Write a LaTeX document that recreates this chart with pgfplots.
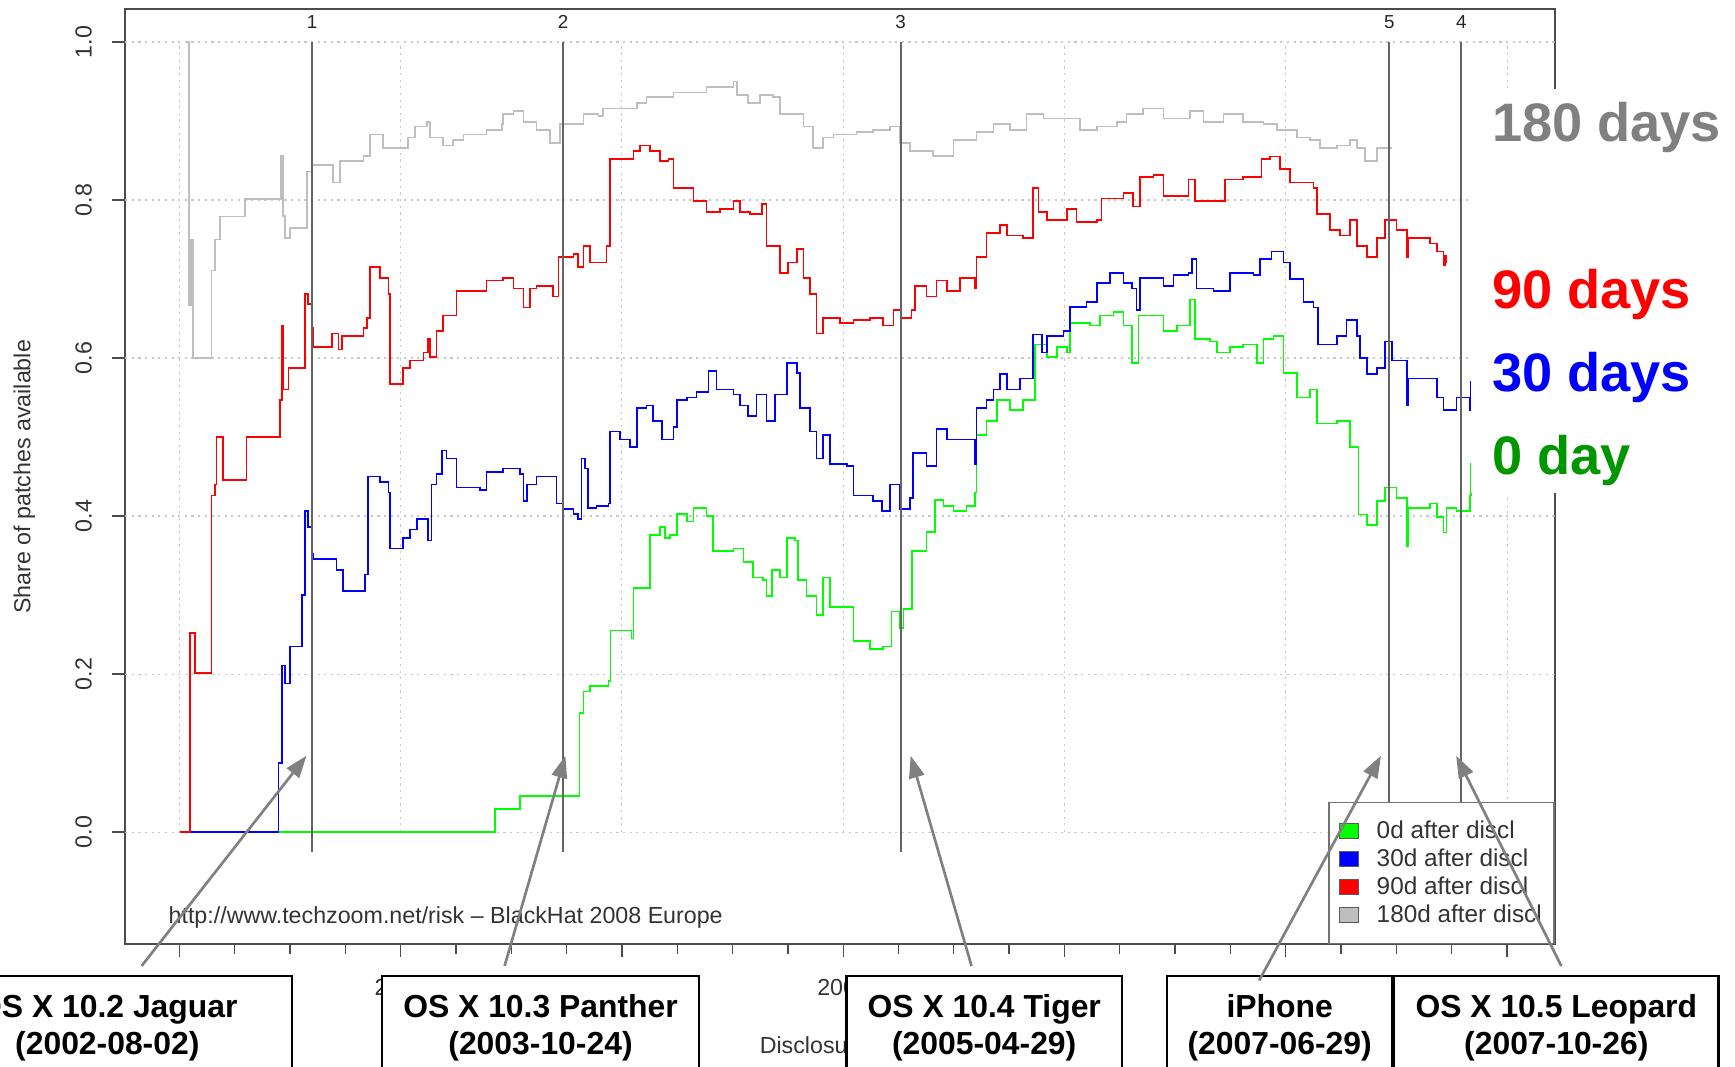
\documentclass[border=0pt]{standalone}
\usepackage{fontspec}
\setmainfont{Liberation Sans}
\usepackage{pgfplots}
\pgfplotsset{compat=1.18}
\usetikzlibrary{arrows.meta}
\definecolor{zgreen}{RGB}{0,255,0}
\definecolor{zblue}{RGB}{0,0,255}
\definecolor{zred}{RGB}{255,0,0}
\definecolor{zgrey}{RGB}{190,190,190}
\definecolor{labgrey}{RGB}{128,128,128}
\definecolor{labgreen}{RGB}{0,150,0}
\definecolor{relline}{RGB}{100,100,100}
\definecolor{arrowgrey}{RGB}{128,128,128}
\definecolor{gridgrey}{RGB}{200,200,200}
\newcommand{\boxfont}{\bfseries\fontsize{14.4}{16}\selectfont}
\newcommand{\bigfont}{\bfseries\fontsize{24.5}{28}\selectfont}
\newcommand{\rfont}{\fontsize{10.5}{12}\selectfont}
\begin{document}
\begin{tikzpicture}
\clip (0pt,0pt) rectangle (784pt,482pt);
\begin{axis}[
  at={(56.5pt,55.5pt)}, anchor=south west,
  scale only axis, width=646pt, height=422.5pt,
  xmin=2001.755, xmax=2008.215, ymin=-0.1415, ymax=1.042,
  axis line style={draw=black!70, line width=0.8pt},
  xtick={2002,2003,2004,2005,2006,2007,2008},
  xticklabels={,2003,,2005,,,},
  minor x tick num=3,
  ytick={0,0.2,0.4,0.6,0.8,1},
  yticklabels={0.0,0.2,0.4,0.6,0.8,1.0},
  tick align=outside, tick pos=left,
  major tick length=6pt, minor tick length=4.5pt,
  every tick/.style={black!70, line width=0.6pt},
  /pgf/number format/assume math mode=true,
  tick label style={font=\rfont, text=black!80},
  yticklabel style={xshift=-5.5pt, rotate=90, anchor=south},
  xticklabel style={yshift=-6.5pt, anchor=north},
  legend style={at={(1,0)}, anchor=south east, draw=black!55, line width=0.6pt,
    fill=white, font=\fontsize{11}{13}\selectfont, text=black!80,
    inner xsep=4.5pt, inner ysep=7pt, row sep=1.2pt, column sep=7pt,
    nodes={inner sep=1pt}},
  legend cell align=left,
  legend image code/.code={\draw[#1, draw=black!65, line width=0.5pt] (4.5pt,-3.5pt) rectangle (13pt,3.5pt);},
]
% grid
\pgfplotsinvokeforeach{0,0.2,0.4,0.6,0.8,1}{
  \draw[gridgrey, dash pattern=on 1pt off 2pt, line width=0.5pt] (axis cs:2001.755,#1) -- (axis cs:2008.215,#1);
}
\pgfplotsinvokeforeach{2002,2003,2004,2005,2006,2007,2008}{
  \draw[gridgrey, dash pattern=on 1pt off 2pt, line width=0.5pt] (axis cs:#1,0) -- (axis cs:#1,1);
}
\addlegendimage{fill=zgreen}
\addlegendimage{fill=zblue}
\addlegendimage{fill=zred}
\addlegendimage{fill=zgrey}
% 0 day
\addplot[const plot, zgreen, line width=0.75pt, forget plot] coordinates {
(2002.003,0) (2003.427,0.029) (2003.540,0.046) (2003.808,0.151) (2003.826,0.178)
(2003.856,0.185) (2003.939,0.191) (2003.949,0.255) (2004.044,0.245) (2004.052,0.309)
(2004.127,0.376) (2004.172,0.386) (2004.195,0.372) (2004.217,0.376) (2004.248,0.403)
(2004.293,0.393) (2004.323,0.410) (2004.383,0.400) (2004.413,0.356) (2004.504,0.359)
(2004.549,0.342) (2004.594,0.322) (2004.639,0.319) (2004.654,0.299) (2004.677,0.332)
(2004.715,0.322) (2004.745,0.372) (2004.782,0.369) (2004.797,0.319) (2004.835,0.299)
(2004.880,0.275) (2004.910,0.322) (2004.940,0.285) (2005.031,0.285) (2005.046,0.242)
(2005.121,0.232) (2005.181,0.235) (2005.219,0.279) (2005.257,0.258) (2005.272,0.282)
(2005.310,0.356) (2005.377,0.380) (2005.415,0.420) (2005.453,0.413) (2005.498,0.406)
(2005.558,0.413) (2005.596,0.430) (2005.603,0.503) (2005.648,0.520) (2005.694,0.547)
(2005.754,0.534) (2005.814,0.547) (2005.867,0.617) (2005.920,0.601) (2005.965,0.614)
(2006.010,0.607) (2006.025,0.644) (2006.115,0.641) (2006.161,0.654) (2006.221,0.658)
(2006.266,0.641) (2006.304,0.594) (2006.334,0.654) (2006.402,0.654) (2006.447,0.634)
(2006.507,0.641) (2006.567,0.674) (2006.590,0.624) (2006.658,0.621) (2006.688,0.607)
(2006.748,0.614) (2006.808,0.617) (2006.869,0.594) (2006.899,0.624) (2006.944,0.628)
(2006.989,0.581) (2007.050,0.550) (2007.110,0.560) (2007.140,0.517) (2007.230,0.520)
(2007.291,0.487) (2007.328,0.402) (2007.366,0.389) (2007.411,0.419) (2007.449,0.436)
(2007.501,0.423) (2007.547,0.362) (2007.555,0.410) (2007.652,0.416) (2007.682,0.399)
(2007.712,0.379) (2007.727,0.410) (2007.772,0.406) (2007.833,0.426) (2007.836,0.466)
(2007.840,0.466)};
% 30 days
\addplot[const plot, zblue, line width=0.75pt, forget plot] coordinates {
(2002.003,0) (2002.448,0.087) (2002.463,0.211) (2002.478,0.188) (2002.500,0.235)
(2002.555,0.300) (2002.568,0.406) (2002.583,0.386) (2002.598,0.352) (2002.606,0.346)
(2002.674,0.346) (2002.711,0.332) (2002.741,0.305) (2002.824,0.305) (2002.839,0.326)
(2002.854,0.450) (2002.907,0.443) (2002.945,0.430) (2002.952,0.359) (2002.982,0.359)
(2003.012,0.372) (2003.043,0.383) (2003.073,0.396) (2003.110,0.396) (2003.125,0.369)
(2003.140,0.440) (2003.163,0.453) (2003.186,0.483) (2003.208,0.473) (2003.253,0.436)
(2003.314,0.436) (2003.359,0.433) (2003.389,0.456) (2003.464,0.460) (2003.540,0.453)
(2003.555,0.419) (2003.570,0.440) (2003.615,0.450) (2003.690,0.450) (2003.705,0.416)
(2003.735,0.409) (2003.781,0.403) (2003.803,0.396) (2003.818,0.473) (2003.833,0.460)
(2003.848,0.410) (2003.886,0.413) (2003.939,0.416) (2003.946,0.507) (2003.992,0.497)
(2004.037,0.487) (2004.067,0.537) (2004.112,0.540) (2004.142,0.520) (2004.180,0.497)
(2004.233,0.513) (2004.248,0.547) (2004.293,0.550) (2004.338,0.557) (2004.391,0.584)
(2004.428,0.560) (2004.504,0.554) (2004.534,0.540) (2004.571,0.527) (2004.609,0.554)
(2004.654,0.520) (2004.692,0.554) (2004.745,0.594) (2004.790,0.581) (2004.805,0.537)
(2004.850,0.507) (2004.880,0.473) (2004.910,0.503) (2004.940,0.466) (2005.016,0.463)
(2005.046,0.426) (2005.136,0.419) (2005.174,0.406) (2005.212,0.440) (2005.257,0.409)
(2005.302,0.423) (2005.317,0.480) (2005.377,0.463) (2005.422,0.510) (2005.468,0.497)
(2005.573,0.497) (2005.596,0.466) (2005.603,0.537) (2005.648,0.547) (2005.679,0.560)
(2005.709,0.580) (2005.739,0.560) (2005.799,0.574) (2005.859,0.630) (2005.897,0.607)
(2005.920,0.628) (2005.995,0.634) (2006.025,0.665) (2006.100,0.671) (2006.146,0.695)
(2006.206,0.708) (2006.266,0.695) (2006.304,0.688) (2006.326,0.661) (2006.341,0.701)
(2006.402,0.701) (2006.447,0.691) (2006.492,0.705) (2006.560,0.708) (2006.575,0.725)
(2006.597,0.688) (2006.673,0.685) (2006.748,0.708) (2006.854,0.705) (2006.884,0.725)
(2006.936,0.735) (2006.989,0.721) (2007.019,0.700) (2007.080,0.671) (2007.125,0.664)
(2007.147,0.617) (2007.230,0.628) (2007.275,0.648) (2007.321,0.628) (2007.336,0.600)
(2007.366,0.580) (2007.411,0.587) (2007.449,0.621) (2007.479,0.597) (2007.547,0.540)
(2007.555,0.574) (2007.652,0.574) (2007.682,0.550) (2007.712,0.534) (2007.772,0.550)
(2007.833,0.534) (2007.836,0.570) (2007.840,0.570)};
% 90 days
\addplot[const plot, zred, line width=0.75pt, forget plot] coordinates {
(2002.003,0) (2002.048,0.252) (2002.070,0.201) (2002.139,0.201) (2002.146,0.426)
(2002.161,0.440) (2002.169,0.500) (2002.191,0.500) (2002.199,0.446) (2002.297,0.446)
(2002.304,0.500) (2002.448,0.500) (2002.455,0.547) (2002.463,0.641) (2002.470,0.560)
(2002.478,0.560) (2002.493,0.587) (2002.561,0.587) (2002.568,0.681) (2002.583,0.668)
(2002.598,0.638) (2002.606,0.614) (2002.681,0.614) (2002.689,0.631) (2002.719,0.611)
(2002.734,0.628) (2002.832,0.638) (2002.847,0.651) (2002.862,0.715) (2002.907,0.701)
(2002.945,0.681) (2002.952,0.567) (2002.990,0.567) (2003.012,0.587) (2003.043,0.597)
(2003.103,0.607) (2003.125,0.624) (2003.133,0.601) (2003.163,0.634) (2003.193,0.654)
(2003.253,0.685) (2003.329,0.685) (2003.389,0.698) (2003.464,0.701) (2003.510,0.688)
(2003.555,0.664) (2003.585,0.688) (2003.615,0.691) (2003.690,0.678) (2003.713,0.728)
(2003.781,0.732) (2003.803,0.715) (2003.826,0.742) (2003.856,0.721) (2003.931,0.742)
(2003.946,0.852) (2004.052,0.862) (2004.082,0.869) (2004.127,0.862) (2004.172,0.849)
(2004.210,0.852) (2004.233,0.815) (2004.293,0.815) (2004.323,0.799) (2004.383,0.785)
(2004.443,0.789) (2004.504,0.799) (2004.534,0.785) (2004.579,0.782) (2004.632,0.795)
(2004.654,0.742) (2004.715,0.708) (2004.752,0.721) (2004.790,0.738) (2004.820,0.701)
(2004.850,0.681) (2004.880,0.631) (2004.910,0.651) (2004.986,0.644) (2005.046,0.648)
(2005.121,0.651) (2005.181,0.641) (2005.227,0.661) (2005.264,0.651) (2005.309,0.661)
(2005.325,0.691) (2005.377,0.678) (2005.422,0.698) (2005.468,0.685) (2005.528,0.701)
(2005.596,0.688) (2005.603,0.728) (2005.648,0.758) (2005.709,0.768) (2005.739,0.755)
(2005.814,0.752) (2005.859,0.815) (2005.882,0.785) (2005.920,0.775) (2006.010,0.789)
(2006.055,0.772) (2006.146,0.775) (2006.168,0.802) (2006.266,0.809) (2006.311,0.792)
(2006.341,0.829) (2006.402,0.832) (2006.447,0.805) (2006.507,0.805) (2006.560,0.826)
(2006.590,0.799) (2006.673,0.799) (2006.726,0.826) (2006.808,0.829) (2006.891,0.852)
(2006.929,0.855) (2006.974,0.839) (2007.019,0.822) (2007.125,0.815) (2007.140,0.782)
(2007.200,0.762) (2007.245,0.755) (2007.291,0.775) (2007.321,0.742) (2007.366,0.728)
(2007.411,0.752) (2007.449,0.775) (2007.501,0.762) (2007.547,0.728) (2007.555,0.752)
(2007.652,0.745) (2007.682,0.735) (2007.712,0.718) (2007.720,0.730) (2007.727,0.720)};
% 180 days
\addplot[const plot, zgrey, line width=0.75pt, forget plot] coordinates {
(2002.035,1.000) (2002.043,0.667) (2002.053,0.750) (2002.063,0.600) (2002.142,0.600)
(2002.146,0.711) (2002.161,0.750) (2002.184,0.779) (2002.297,0.801) (2002.460,0.856)
(2002.468,0.780) (2002.478,0.752) (2002.500,0.765) (2002.561,0.765) (2002.576,0.836)
(2002.598,0.844) (2002.696,0.822) (2002.726,0.849) (2002.832,0.856) (2002.862,0.883)
(2002.915,0.883) (2002.922,0.866) (2002.990,0.866) (2003.035,0.879) (2003.065,0.893)
(2003.118,0.899) (2003.133,0.879) (2003.193,0.869) (2003.238,0.876) (2003.284,0.883)
(2003.389,0.889) (2003.457,0.896) (2003.464,0.909) (2003.510,0.913) (2003.555,0.899)
(2003.615,0.889) (2003.675,0.872) (2003.720,0.896) (2003.826,0.909) (2003.894,0.906)
(2003.916,0.916) (2004.067,0.923) (2004.112,0.930) (2004.233,0.936) (2004.383,0.943)
(2004.504,0.950) (2004.519,0.933) (2004.571,0.923) (2004.624,0.933) (2004.684,0.930)
(2004.715,0.909) (2004.775,0.909) (2004.820,0.893) (2004.865,0.866) (2004.910,0.879)
(2004.956,0.883) (2005.061,0.886) (2005.136,0.889) (2005.212,0.893) (2005.257,0.872)
(2005.302,0.862) (2005.407,0.856) (2005.498,0.876) (2005.603,0.886) (2005.679,0.896)
(2005.754,0.889) (2005.829,0.909) (2005.905,0.903) (2006.070,0.889) (2006.146,0.893)
(2006.236,0.899) (2006.281,0.909) (2006.356,0.916) (2006.447,0.903) (2006.567,0.913)
(2006.628,0.899) (2006.718,0.909) (2006.808,0.899) (2006.899,0.896) (2006.959,0.889)
(2007.050,0.879) (2007.110,0.876) (2007.155,0.866) (2007.230,0.869) (2007.291,0.876)
(2007.321,0.866) (2007.358,0.849) (2007.411,0.866) (2007.479,0.866)};
% release lines
\draw[relline, line width=0.9pt] (axis cs:2002.600,-0.025) -- (axis cs:2002.600,1);
\draw[relline, line width=0.9pt] (axis cs:2003.735,-0.025) -- (axis cs:2003.735,1);
\draw[relline, line width=0.9pt] (axis cs:2005.260,-0.025) -- (axis cs:2005.260,1);
\draw[relline, line width=0.9pt] (axis cs:2007.468,-0.025) -- (axis cs:2007.468,1);
\draw[relline, line width=0.9pt] (axis cs:2007.793,-0.025) -- (axis cs:2007.793,1);
\node[font=\fontsize{8.5}{10}\selectfont, text=black!85] at (axis cs:2002.600,1.025) {1};
\node[font=\fontsize{8.5}{10}\selectfont, text=black!85] at (axis cs:2003.735,1.025) {2};
\node[font=\fontsize{8.5}{10}\selectfont, text=black!85] at (axis cs:2005.260,1.025) {3};
\node[font=\fontsize{8.5}{10}\selectfont, text=black!85] at (axis cs:2007.468,1.025) {5};
\node[font=\fontsize{8.5}{10}\selectfont, text=black!85] at (axis cs:2007.793,1.025) {4};
\legend{0d after discl,30d after discl,90d after discl,180d after discl}
\end{axis}
\begin{scope}[x=0.5pt,y=-0.5pt,shift={(0pt,482pt)}]
% white panel for the big labels
\fill[white] (1329,80) rectangle (1568,446);
\node[anchor=base west, inner sep=0pt, font=\bigfont, text=labgrey] at (1348,128) {180 days};
\node[anchor=base west, inner sep=0pt, font=\bigfont, text=zred] at (1348,279) {90 days};
\node[anchor=base west, inner sep=0pt, font=\bigfont, text=zblue] at (1348,354) {30 days};
\node[anchor=base west, inner sep=0pt, font=\bigfont, text=labgreen] at (1348,429) {0 day};
% watermark and axis titles
\node[anchor=base west, inner sep=0pt, font=\rfont, text=black!80] at (152,835) {http://www.techzoom.net/risk -- BlackHat 2008 Europe};
\node[rotate=90, inner sep=0pt, font=\rfont, text=black!80] at (22,431) {Share of patches available};
\node[inner sep=0pt, font=\rfont, text=black!80] at (759,945) {Disclosure date};
% release boxes
\draw[line width=1pt, fill=white] (-70,882) rectangle (264,1010);
\draw[line width=1pt, fill=white] (345,882) rectangle (632,1010);
\draw[line width=1pt, fill=white] (765,882) rectangle (1014,1010);
\draw[line width=1pt, fill=white] (1055,882) rectangle (1258,1010);
\draw[line width=1pt, fill=white] (1260,882) rectangle (1553,1010);
\node[anchor=base, inner sep=0pt, font=\boxfont] at (97,920) {OS X 10.2 Jaguar};
\node[anchor=base, inner sep=0pt, font=\boxfont] at (97,953) {(2002-08-02)};
\node[anchor=base, inner sep=0pt, font=\boxfont] at (488.5,920) {OS X 10.3 Panther};
\node[anchor=base, inner sep=0pt, font=\boxfont] at (488.5,953) {(2003-10-24)};
\node[anchor=base, inner sep=0pt, font=\boxfont] at (889.5,920) {OS X 10.4 Tiger};
\node[anchor=base, inner sep=0pt, font=\boxfont] at (889.5,953) {(2005-04-29)};
\node[anchor=base, inner sep=0pt, font=\boxfont] at (1156.5,920) {iPhone};
\node[anchor=base, inner sep=0pt, font=\boxfont] at (1156.5,953) {(2007-06-29)};
\node[anchor=base, inner sep=0pt, font=\boxfont] at (1406.5,920) {OS X 10.5 Leopard};
\node[anchor=base, inner sep=0pt, font=\boxfont] at (1406.5,953) {(2007-10-26)};
% arrows
\draw[arrowgrey, line width=1.2pt, -{Triangle[length=10pt,width=7pt]}] (128,873) -- (277,683);
\draw[arrowgrey, line width=1.2pt, -{Triangle[length=10pt,width=7pt]}] (456,873) -- (511,683);
\draw[arrowgrey, line width=1.2pt, -{Triangle[length=10pt,width=7pt]}] (878,873) -- (823,683);
\draw[arrowgrey, line width=1.2pt, -{Triangle[length=10pt,width=7pt]}] (1138,886) -- (1248,683);
\draw[arrowgrey, line width=1.2pt, -{Triangle[length=10pt,width=7pt]}] (1411,873) -- (1316,683);
\end{scope}
\end{tikzpicture}
\end{document}
